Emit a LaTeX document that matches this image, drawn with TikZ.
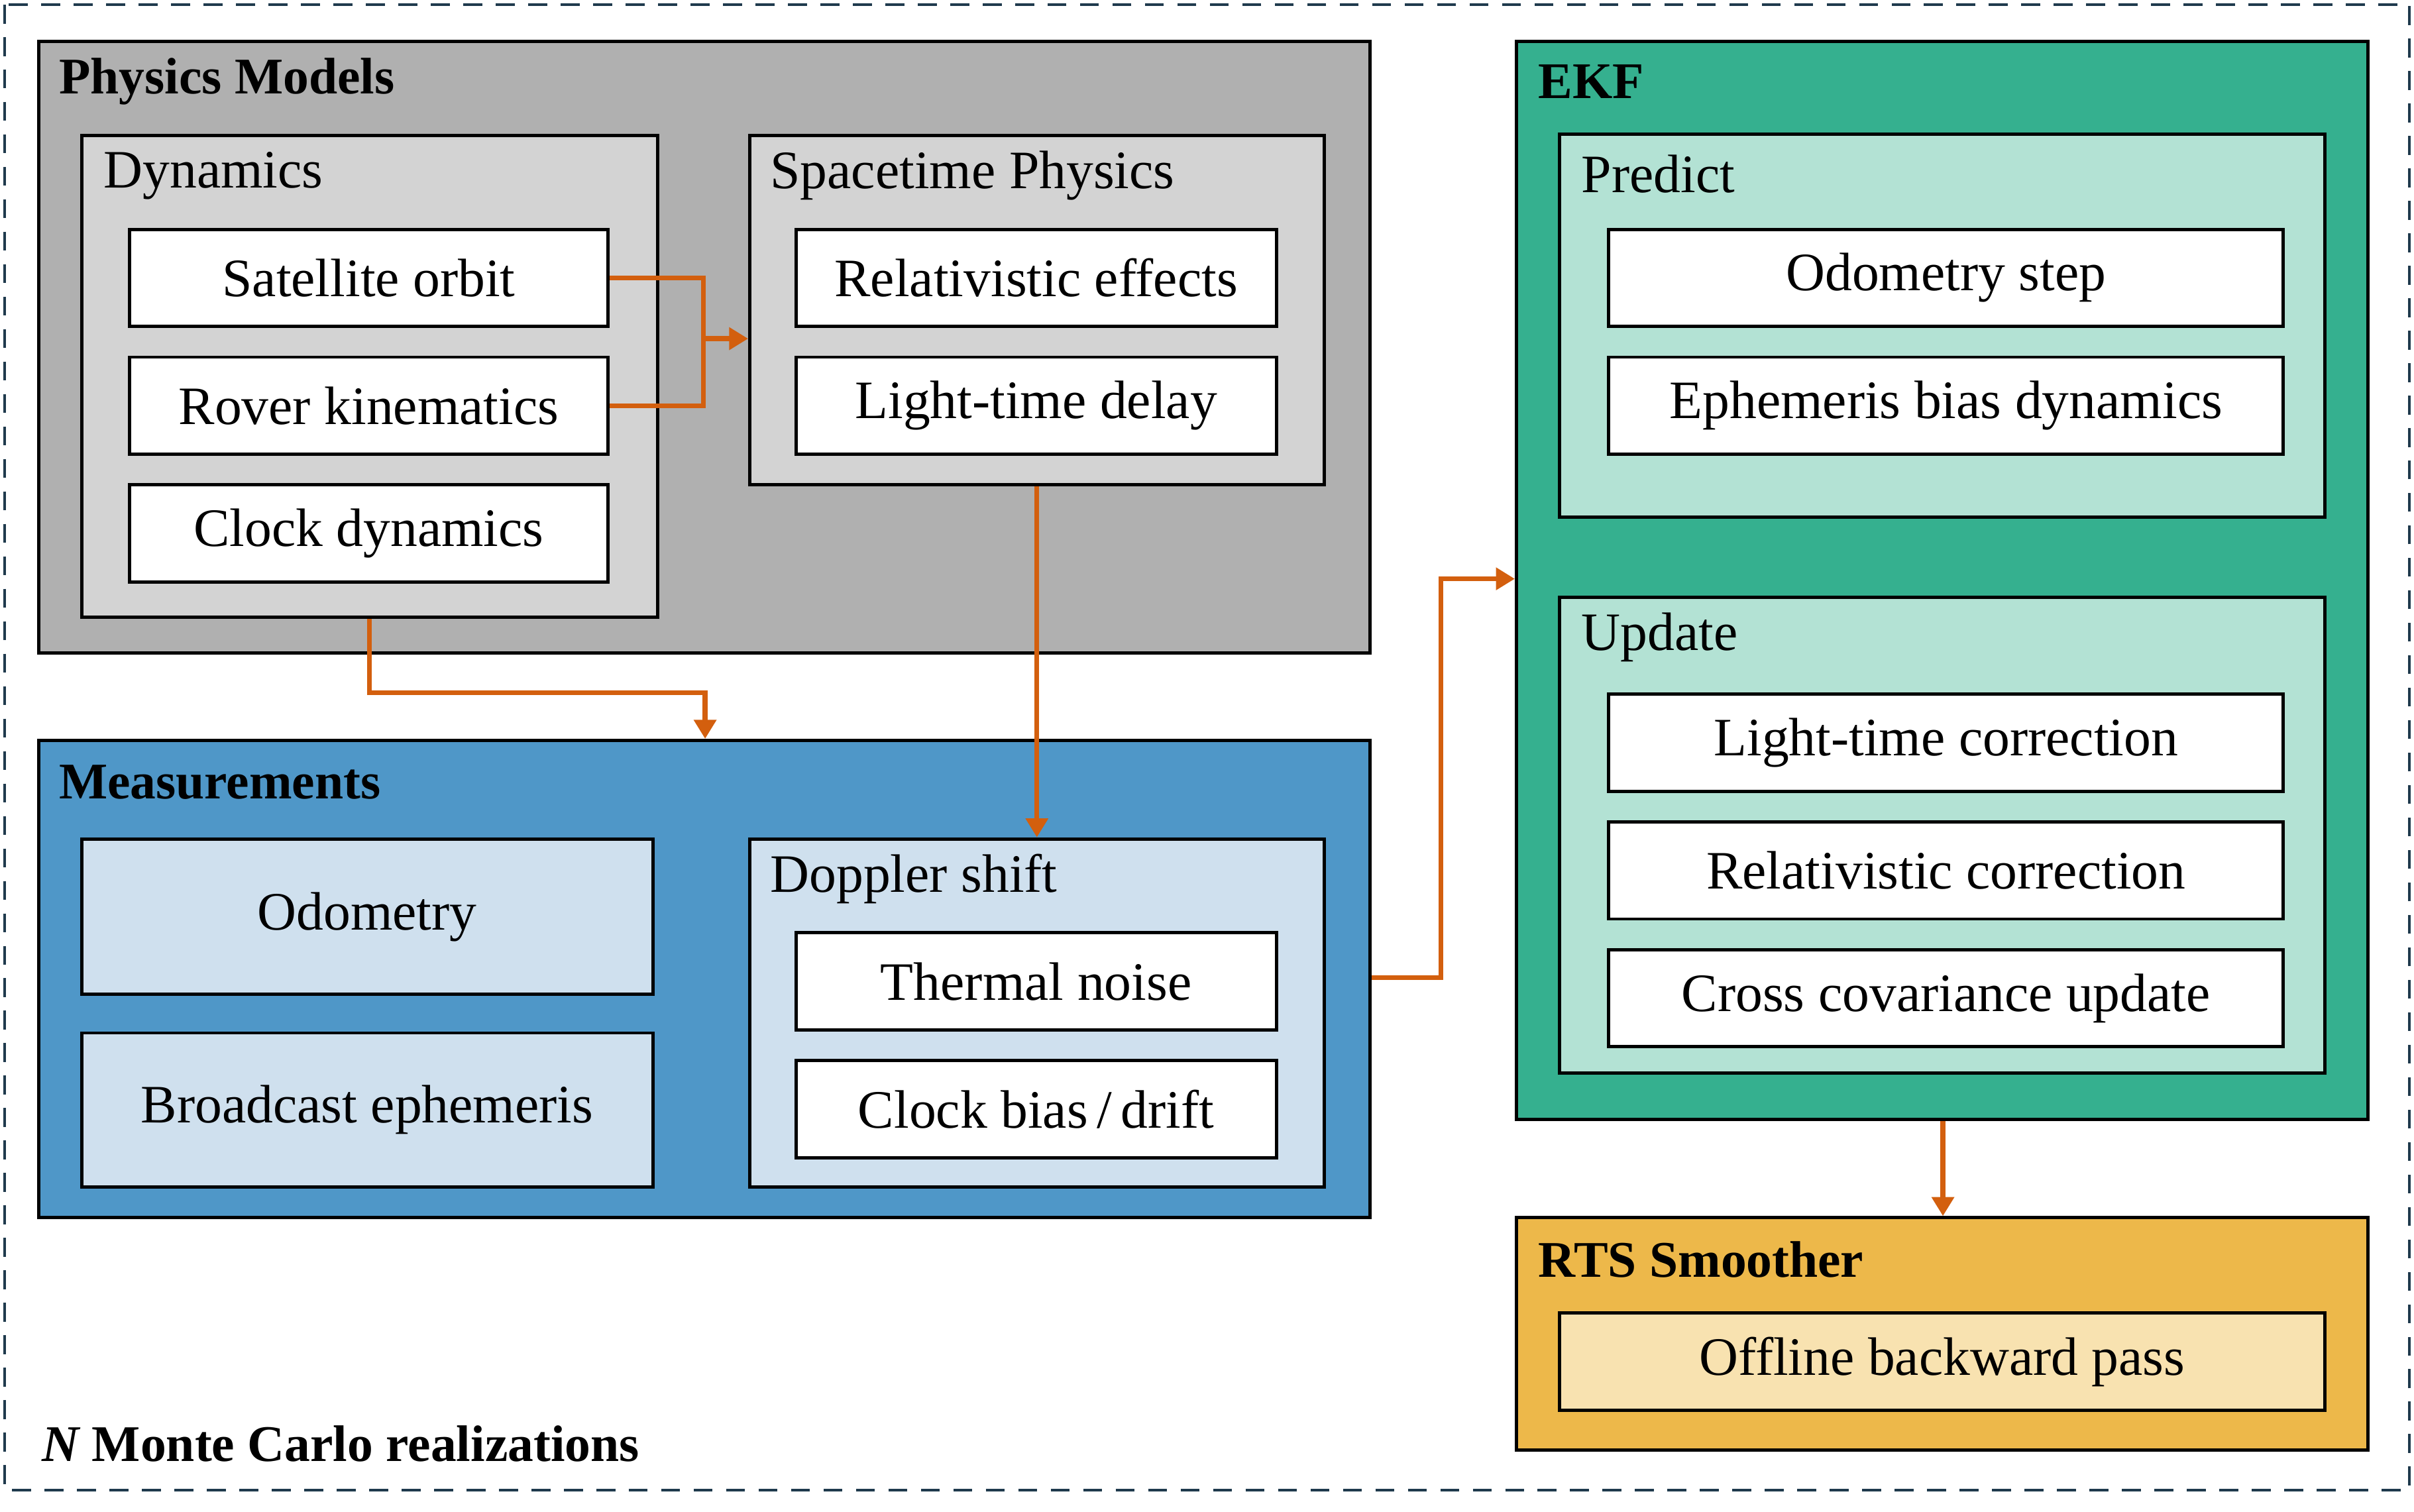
\documentclass[tikz,border=0pt]{standalone}
\usepackage{fontspec}
\setmainfont{Liberation Serif}
\usetikzlibrary{fit,arrows.meta}
\definecolor{outl}{HTML}{1F3A4D}
\definecolor{phys}{HTML}{B0B0B0}
\definecolor{physin}{HTML}{D3D3D3}
\definecolor{meas}{HTML}{4F97C8}
\definecolor{measin}{HTML}{CFE0EE}
\definecolor{ekf}{HTML}{35B08F}
\definecolor{ekfin}{HTML}{B3E2D4}
\definecolor{rts}{HTML}{EDB84A}
\definecolor{rtsin}{HTML}{F8E2B0}
\definecolor{arrc}{HTML}{D35F0E}
\tikzset{
  frame/.style={draw=black, line width=1.2pt, inner sep=0pt},
  leaf/.style={frame, fill=white},
  ttl/.style={anchor=west, font=\fontsize{19}{22}\selectfont\bfseries, inner sep=0pt},
  sub/.style={anchor=west, font=\fontsize{20}{24}\selectfont, inner sep=0pt},
  txt/.style={font=\fontsize{20}{24}\selectfont},
  arr/.style={draw=arrc, line width=1.8pt, -{Triangle[length=7pt,width=8pt]}},
  ln/.style={draw=arrc, line width=1.8pt}
}
\begin{document}
\begin{tikzpicture}[x=0.02cm,y=-0.02cm]
\useasboundingbox (0,0) rectangle (1568,982);
\draw[outl, dashed, line width=1.1pt, dash pattern=on 7pt off 5pt] (3,3) rectangle (1565,968);
% Physics models
\node[frame, fill=phys, fit={(25,27)(890,424)}] (pm) {};
\node[ttl] at (38,53) {Physics Models};
\node[frame, fill=physin, fit={(53,88)(427,401)}] (dyn) {};
\node[sub] at (67,114) {Dynamics};
\node[leaf, fit={(84,149)(395,212)}, label={[txt]center:Satellite orbit}] (sat) {};
\node[leaf, fit={(84,232)(395,295)}, label={[txt]center:Rover kinematics}] (rov) {};
\node[leaf, fit={(84,315)(395,378)}, label={[txt]center:Clock dynamics}] (clk) {};
\node[frame, fill=physin, fit={(487,88)(860,315)}] (st) {};
\node[sub] at (500,114) {Spacetime Physics};
\node[leaf, fit={(517,149)(829,212)}, label={[txt]center:Relativistic effects}] (rel) {};
\node[leaf, fit={(517,232)(829,295)}, label={[txt]center:Light-time delay}] (ltd) {};
% Measurements
\node[frame, fill=meas, fit={(25,481)(890,791)}] (ms) {};
\node[ttl] at (38,508) {Measurements};
\node[frame, fill=measin, fit={(53,545)(424,646)}, label={[txt]center:Odometry}] (odo) {};
\node[frame, fill=measin, fit={(53,671)(424,771)}, label={[txt]center:Broadcast ephemeris}] (be) {};
\node[frame, fill=measin, fit={(487,545)(860,771)}] (dop) {};
\node[sub] at (500,571) {Doppler shift};
\node[leaf, fit={(517,606)(829,669)}, label={[txt]center:Thermal noise}] (tn) {};
\node[leaf, fit={(517,689)(829,752)}, label={[txt]center:Clock bias\,/\,drift}] (cb) {};
% EKF
\node[frame, fill=ekf, fit={(985,27)(1538,727)}] (ekf) {};
\node[ttl] at (999,53) {EKF};
\node[frame, fill=ekfin, fit={(1013,87)(1510,336)}] (pred) {};
\node[sub] at (1027,113) {Predict};
\node[leaf, fit={(1045,149)(1483,212)}, label={[txt]center:Odometry step}] (os) {};
\node[leaf, fit={(1045,232)(1483,295)}, label={[txt]center:Ephemeris bias dynamics}] (ebd) {};
\node[frame, fill=ekfin, fit={(1013,388)(1510,697)}] (upd) {};
\node[sub] at (1027,414) {Update};
\node[leaf, fit={(1045,451)(1483,514)}, label={[txt]center:Light-time correction}] (ltc) {};
\node[leaf, fit={(1045,534)(1483,597)}, label={[txt]center:Relativistic correction}] (rc) {};
\node[leaf, fit={(1045,617)(1483,680)}, label={[txt]center:Cross covariance update}] (ccu) {};
% RTS
\node[frame, fill=rts, fit={(985,791)(1538,942)}] (rts) {};
\node[ttl] at (999,818) {RTS Smoother};
\node[frame, fill=rtsin, fit={(1013,853)(1510,916)}, label={[txt]center:Offline backward pass}] (obp) {};
\node[ttl] at (27,938) {\itshape N\upshape\ Monte Carlo realizations};
% connectors
\coordinate (j1) at (457,220);
\draw[ln] (sat.east) -| (j1);
\draw[ln] (rov.east) -| (j1);
\draw[arr] (j1) -- (st.west |- j1);
\coordinate (j2) at (458,450);
\draw[arr] (dyn.south) |- (j2) -- (ms.north -| j2);
\draw[arr] (st.south) -- (dop.north -| st.south);
\coordinate (j3) at (936,635);
\coordinate (j4) at (936,376);
\draw[arr] (ms.east |- j3) -- (j3) -- (j4) -- (ekf.west |- j4);
\coordinate (j5) at (1262,760);
\draw[arr] (ekf.south -| j5) -- (rts.north -| j5);
\end{tikzpicture}
\end{document}
